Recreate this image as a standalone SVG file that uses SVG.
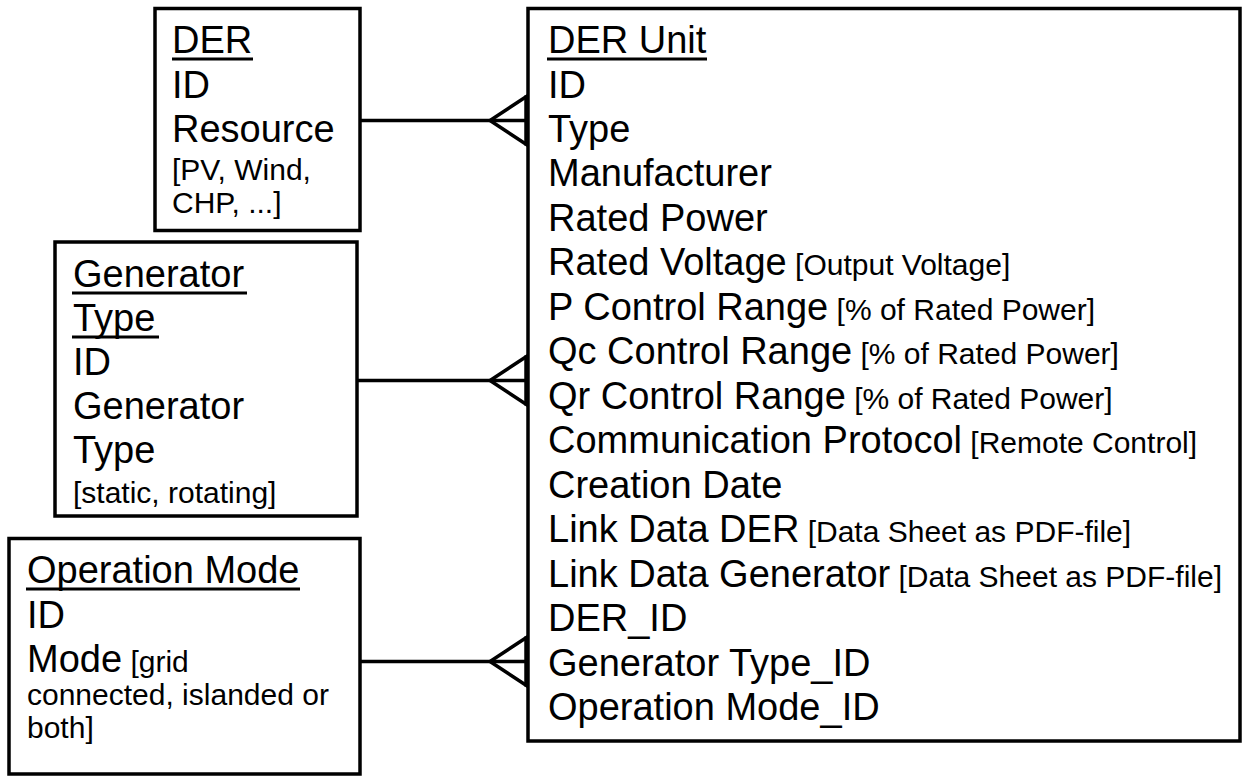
<svg xmlns="http://www.w3.org/2000/svg" width="1242" height="776" viewBox="0 0 1242 776">
  <style>
    .box { fill: #ffffff; stroke: #000000; stroke-width: 3.5; }
    .ul { stroke: #000000; stroke-width: 3; }
    .conn { fill: none; stroke: #000000; stroke-width: 3.5; }
    text { font-family: "Liberation Sans", Arial, sans-serif; fill: #000000; }
    .big { font-size: 38px; }
    .small { font-size: 30px; }
  </style>
  <rect width="1242" height="776" fill="#ffffff"/>

  <!-- Relationship lines with crow's-foot ends at DER Unit -->
  <g id="connectors">
    <line class="conn" x1="360" y1="120.5" x2="528" y2="120.5"/>
    <polyline class="conn" points="528,95.5 490,120.5 528,145.5"/>
    <line class="conn" x1="526" y1="95.5" x2="526" y2="145.5"/>

    <line class="conn" x1="357" y1="380.5" x2="528" y2="380.5"/>
    <polyline class="conn" points="528,355.5 490,380.5 528,405.5"/>
    <line class="conn" x1="526" y1="355.5" x2="526" y2="405.5"/>

    <line class="conn" x1="360" y1="661.5" x2="528" y2="661.5"/>
    <polyline class="conn" points="528,636.5 490,661.5 528,686.5"/>
    <line class="conn" x1="526" y1="636.5" x2="526" y2="686.5"/>
  </g>

  <!-- DER entity -->
  <g id="der">
    <rect class="box" x="155" y="8.5" width="205" height="222"/>
    <text class="big" x="172" y="53">DER</text>
    <line class="ul" x1="172" y1="59" x2="253" y2="59"/>
    <text class="big" x="172" y="97.5">ID</text>
    <text class="big" x="172" y="142">Resource</text>
    <text class="small" x="172" y="180">[PV, Wind,</text>
    <text class="small" x="172" y="213">CHP, ...]</text>
  </g>

  <!-- Generator Type entity -->
  <g id="generator-type">
    <rect class="box" x="55" y="242" width="302" height="274"/>
    <text class="big" x="73" y="287">Generator</text>
    <line class="ul" x1="72" y1="293" x2="247" y2="293"/>
    <text class="big" x="73" y="331">Type</text>
    <line class="ul" x1="72" y1="337" x2="159" y2="337"/>
    <text class="big" x="73" y="375">ID</text>
    <text class="big" x="73" y="419">Generator</text>
    <text class="big" x="73" y="463">Type</text>
    <text class="small" x="73" y="503">[static, rotating]</text>
  </g>

  <!-- Operation Mode entity -->
  <g id="operation-mode">
    <rect class="box" x="9" y="538.5" width="351" height="235.5"/>
    <text class="big" x="27" y="583">Operation Mode</text>
    <line class="ul" x1="26" y1="589" x2="300" y2="589"/>
    <text class="big" x="27" y="628">ID</text>
    <text class="big" x="27" y="672">Mode<tspan class="small"> [grid</tspan></text>
    <text class="small" x="27" y="705">connected, islanded or</text>
    <text class="small" x="27" y="738">both]</text>
  </g>

  <!-- DER Unit entity -->
  <g id="der-unit">
    <rect class="box" x="528" y="8.5" width="712" height="732.5"/>
    <text class="big" x="548" y="53">DER Unit</text>
    <line class="ul" x1="547" y1="59" x2="707" y2="59"/>
    <text class="big" x="548" y="97.5">ID</text>
    <text class="big" x="548" y="142">Type</text>
    <text class="big" x="548" y="186.4">Manufacturer</text>
    <text class="big" x="548" y="230.9">Rated Power</text>
    <text class="big" x="548" y="275.4">Rated Voltage<tspan class="small"> [Output Voltage]</tspan></text>
    <text class="big" x="548" y="319.8">P Control Range<tspan class="small"> [% of Rated Power]</tspan></text>
    <text class="big" x="548" y="364.3">Qc Control Range<tspan class="small"> [% of Rated Power]</tspan></text>
    <text class="big" x="548" y="408.8">Qr Control Range<tspan class="small"> [% of Rated Power]</tspan></text>
    <text class="big" x="548" y="453.2">Communication Protocol<tspan class="small"> [Remote Control]</tspan></text>
    <text class="big" x="548" y="497.7">Creation Date</text>
    <text class="big" x="548" y="542.2">Link Data DER<tspan class="small"> [Data Sheet as PDF-file]</tspan></text>
    <text class="big" x="548" y="586.6">Link Data Generator<tspan class="small"> [Data Sheet as PDF-file]</tspan></text>
    <text class="big" x="548" y="631.1">DER_ID</text>
    <text class="big" x="548" y="675.6">Generator Type_ID</text>
    <text class="big" x="548" y="720">Operation Mode_ID</text>
  </g>
</svg>
